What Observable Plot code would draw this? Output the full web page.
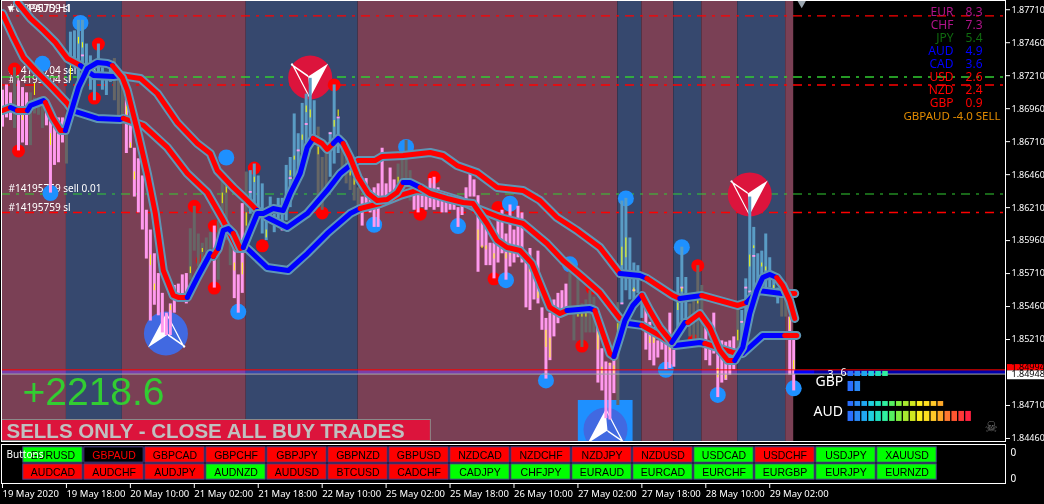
<!DOCTYPE html>
<html><head><meta charset="utf-8">
<script src="https://cdn.jsdelivr.net/npm/d3@7"></script>
<script src="https://cdn.jsdelivr.net/npm/@observablehq/plot@0.6"></script>
<style>html,body{margin:0;padding:0;background:#000;overflow:hidden;width:1044px;height:504px}svg{display:block}</style>
</head><body><div id="chart"></div>
<script>
// All price series are in pips above 1.8000 (1 pip = 0.0001)
const barHigh=[710,714,708,727,717,712,708,708,704,704,704,702,695,687,689,689,689,754,755,763,763,745,736,725,745,727,723,729,734,721,715,704,691,666,658,645,619,604,586,571,556,541,548,562,563,570,571,605,622,601,594,598,602,607,611,642,642,598,591,570,624,648,649,654,645,639,616,629,616,628,628,653,659,692,677,700,707,719,702,682,659,664,678,714,689,670,659,657,647,636,629,643,634,636,639,666,639,651,642,654,659,672,649,632,632,630,632,643,644,636,629,625,624,630,621,624,636,648,642,630,617,614,594,594,617,619,601,623,604,622,617,583,590,579,588,545,537,541,551,556,558,563,573,543,568,548,551,558,553,530,514,504,503,507,549,626,628,598,579,577,556,547,534,530,520,523,518,541,513,568,591,568,548,553,577,562,530,518,541,510,520,519,520,523,544,543,567,629,606,586,588,601,583,571,560,556,556,538,523];
const barLow=[682,689,687,681,664,670,668,668,692,691,681,683,632,653,655,670,654,729,727,717,729,726,710,702,721,710,706,716,702,689,691,662,666,629,617,604,582,535,547,539,526,524,524,541,551,554,548,566,588,576,579,583,583,560,566,607,596,577,552,541,556,594,616,621,621,601,596,611,602,606,604,611,621,644,648,662,667,672,670,621,619,634,644,654,662,647,639,634,626,621,607,619,617,606,606,626,624,632,629,634,632,642,626,619,617,621,619,621,619,621,617,617,619,619,606,615,624,629,629,572,591,577,577,567,579,586,566,576,579,583,579,545,543,551,548,528,491,505,523,533,538,545,543,520,538,515,526,526,526,488,482,461,460,480,471,548,558,551,543,556,537,513,505,501,507,513,498,499,500,520,535,533,523,518,515,518,505,501,510,477,488,490,494,498,510,513,533,545,551,556,560,558,560,556,548,538,538,494,482];
const barKindRuns=[["p",3],["g",1],["p",3],["g",4],["p",5],["g",1],["s",11],["g",3],["p",16],["g",6],["p",1],["g",4],["p",3],["g",1],["s",17],["g",3],["s",3],["g",5],["p",9],["g",4],["p",39],["g",7],["p",5],["g",1],["s",6],["p",8],["s",3],["g",4],["p",8],["g",1],["s",10],["g",2],["p",2]];

const fastIdx=[0,2,3.75,6.25,7,10.25,10.75,12.5,14.5,15.75,17.5,19,21.25,23.75,26.25,27.5,30,31.25,33.75,36.25,38.25,40.25,42.75,44,46.25,48.75,52,52.75,54,55.25,56.5,57.75,59.5,60.25,63.75,65.25,67.75,70.25,72,74.5,76.25,77.75,80,81.25,82.75,84,85.25,87,89,91.5,93.75,96.25,98.75,100.25,102,104.5,107,111.25,115.25,117.75,121.25,123.75,126.25,129.5,132.5,135.25,137,139.5,141.25,147,148.25,150.25,152,153,154.5,155.75,157.75,160,162,164.5,167.5,169,170.75,171.5,174.5,177,179.5,181.5,183.25,185.25,187,188.75,190.25,192,193.75,195.25,197,198.25];
const fastPips=[694.6,696.9,694.6,694.6,698.4,702.2,700.7,689.3,679.5,679.5,696.9,712.1,726.5,731,730.2,728.7,719.6,709.8,679.5,646.9,616.5,573.3,554.4,552.9,552.9,568,586.2,584,590,603.7,605.2,601.4,590,590.8,616.5,616.5,620.3,618.8,631.7,646.9,666.6,673.4,669.6,665.1,669.6,673.4,669.6,659,643.8,631.7,626.4,627.2,632.5,640,640,636.3,631.7,627.9,624.9,624.1,609,596.1,590.8,588.5,578.6,558.2,545.3,540.7,543,544.5,543,525.6,510.4,508.2,522.6,535.4,546.8,554.4,543,530.1,518.8,525.6,533.9,533.9,540.7,530.1,512.7,505.1,505.1,515,540.7,558.2,568,570.3,568,562,550.6,537];
const fastTrend="rbr"+"bbb"+"rrr"+"bbbbbb"+"rrrrrrrrr"+"bbb"+"r"+"bbb"+"rr"+"bbbbbbbb"+"rrr"+"bb"+"rrrrrrr"+"bb"+"rrrrrrrrrrrrr"+"bb"+"rrr"+"bbbb"+"rrr"+"bbb"+"rrrrr"+"bbbbbb"+"rrrr";

const midIdx=[3.75,7,10.25,13.25,16.25,19.5,22.75,27.75,29.5,34.5,38.75,43.75,48.75,52,53.75,57.75,61.25,63.75,66.25,71.25,76.25,81.25,84.5,87,89,93.25,95,100.25,107,110.25,113.75,118.75,123.75,130.25,134.5,138.75,143.75,149.5,154.5,159.5,161.25,167.75,169.5,175,184,186.25,189,195,197,198.25];
const midPips=[776.5,764.4,755.3,746.2,734,728.7,721.2,720.4,721.2,718.9,707.5,685.5,669.6,662,649.1,636.3,626.4,618.8,613.5,605.9,616.5,634,646.9,652.9,656.7,656.7,659.8,660.5,662.8,660.5,652.9,647.6,636.3,634,626.4,613.5,603.7,590.8,571.1,569.5,567.3,554.4,552.1,554.4,546.8,549.1,558.2,555.9,555.9,555.9];
const midTrend="rrrrr"+"bbb"+"rrrrrrrrr"+"bbbbbbb"+"rrrrrrrrrrrrrr"+"bb"+"rr"+"b"+"rr"+"bbb"+"rr";

const lowIdx=[0,2.75,5.25,8.75,12,16.25,17.5,23.75,29.5,30.25,35.25,41.25,46.25,51.25,55.25,58.75,61.25,66.25,71.5,76.25,81.25,87,89.5,94.5,99.5,103.75,108.75,114.5,118.75,124.5,130.25,136.25,140.25,145.25,149.5,154.5,156.5,160,165.25,168.25,174.5,175.75,182.75,185.25,190.25,195.75,198.75];
const lowPips=[768.1,750,734.8,723.4,713.6,699.9,694.6,688.6,687.8,688.6,683.3,666.6,646.9,632.5,611.2,590,590,575.6,573.3,586.2,601.4,616.5,620.3,624.1,630.2,634,631.7,626.4,620.3,613.5,609,593.8,580.9,568,556.7,537,533.2,531.7,522.6,516.5,518.8,518,511.2,510.4,524.1,524.1,524.1];
const lowTrend="rrrrrr"+"bbb"+"rrrrrrr"+"bbbbbb"+"rrrrrrrrrrrrrr"+"b"+"rr"+"bb"+"rr"+"bb"+"rr";

const regionStart=[-0.25,16,30,61,89,154,160,168,175,184,196];
const regionEnd=[16,30,61,89,154,160,168,175,184,196,198];
const regionSide=["sell","buy","sell","buy","sell","buy","sell","buy","sell","buy","sell"];

const levelPips=[766.3,720,714,631.3,617.3];
const levelColor=["#ff0000","#32cd32","#ff0000","#32cd32","#ff0000"];
const levelWidth=[1.2,1.4,1.4,1.2,1.4];

const redIdx=[3,4,24,23,48,53,53,65,63,80,83,104.5,108,124,123,145,147.5,174,173,50];
const redPips=[726,664,745,704,622,607,560,592,651,617,714,616,644,621,567,516,560,577,520,581];
const blueIdx=[19.5,10,12,56,59,93,101,114,126,127,136,142,156,170,166,179,198];
const bluePips=[761,730,632,659,542,608,667,607,566,624,490,578,628,591,498,479,484];

const sellSignalIdx=[77,187], sellSignalPips=[719.6,631];
const buySignalIdx=[40.9,150.9], buySignalPips=[525.6,452.8];
const buyBoxIdx=[144.1,157.8], buyBoxPips=[474.8,443];

const wickIdx=[8,5,12,17,19,20,31,32,33,37,38,42,47,50,55,56,58,60,61,63,66,71,72,73,75,76,77,79,83,84,87,88,99,119,120,121,123,126,127,132,134,136,137,144,145,146,149,150,152,153,154,155,156,158,162,163,167,169,170,174,179,181,184,187,188,190,191,193,197,198];
const wickHigh=[715,691,677,729,750,746,698,670,648,585,563,547,576,590,632,639,579,579,617,644,604,632,649,660,676,698,695,667,687,695,649,643,644,604,592,592,586,586,588,575,557,528,522,541,541,541,526,500,503,501,533,591,598,560,523,523,518,554,560,551,499,494,528,585,592,579,576,562,538,505];
const wickLow=[706,687,668,717,745,742,691,666,642,577,558,543,571,587,624,632,573,570,607,640,598,628,645,657,672,693,689,661,682,690,645,638,639,596,590,589,582,582,585,572,552,515,507,538,538,538,513,495,501,495,520,577,583,557,518,518,513,543,557,548,492,491,520,576,590,576,573,559,528,498];
const pinkTickIdx=[62,69,70,72,74,76,82,84,20,155,158,170,186,188,187,185];
const pinkTickPips=[632.5,609,604,643,664,684,677,689,736,548,558,560,560,584,557,534];

const priceTicks=[1.8771,1.8746,1.8721,1.8696,1.8671,1.8646,1.8621,1.8596,1.8571,1.8546,1.8521,1.8471,1.8446];
const bidPrice=1.84948, askLine=1.8498, tagAskText="1.84994";

const strengthNames=["EUR","CHF","JPY","AUD","CAD","USD","NZD","GBP"];
const strengthValues=["8.3","7.3","5.4","4.9","3.6","2.6","2.4","0.9"];
const strengthColors=["#b0148a","#b0148a","#0f6b0f","#0000ff","#0000ff","#ff0000","#ff0000","#ff0000"];

const meterColors=["#2a70ff","#2a8af5","#20a8f0","#20d0e0","#20e0c0","#30f0a0","#55f060","#80f040","#a8e830","#d0e820","#fff020","#ffe020","#ffc828","#ffa828","#ff7830","#ff5530","#ff3838","#ff2040"];
const meterCounts=[6,2,14,18];
const meterTopPips=[496.8,489.2,474,466.5];
const meterBottomPips=[493,481.6,470.3,458.9];

const buttonsTop=["EURUSD","GBPAUD","GBPCAD","GBPCHF","GBPJPY","GBPNZD","GBPUSD","NZDCAD","NZDCHF","NZDJPY","NZDUSD","USDCAD","USDCHF","USDJPY","XAUUSD"];
const buttonsBottom=["AUDCAD","AUDCHF","AUDJPY","AUDNZD","AUDUSD","BTCUSD","CADCHF","CADJPY","CHFJPY","EURAUD","EURCAD","EURCHF","EURGBP","EURJPY","EURNZD"];
const buttonsTopState="gkrrrrrrrrrgrgg";
const buttonsBottomState="rrrgrrrgggggggg";

const timeIdx=[0,16,32,48,64,80,96,112,128,144,160,176,192];
const timeLabels=["19 May 2020","19 May 18:00","20 May 10:00","21 May 02:00","21 May 18:00","22 May 10:00","25 May 02:00","25 May 18:00","26 May 10:00","27 May 02:00","27 May 18:00","28 May 10:00","29 May 02:00"];

// ---- helpers
const price=v=>1.8+v/1e4;
const kinds=barKindRuns.flatMap(([k,n])=>Array(n).fill(k));
const KIND={p:"#ff99ee",s:"#5a9cc5",g:"#666666"};
const TREND={r:"#ff0000",b:"#0000ff"};
const bars=barHigh.map((h,i)=>({i,h:price(h),l:price(barLow[i]),c:KIND[kinds[i]]}));
const series=(idx,pips,trend)=>idx.map((x,k)=>({x,y:price(pips[k]),c:TREND[trend[k]]||"#ff0000"}));
const pts=(idx,pips)=>idx.map((x,k)=>({x,y:price(pips[k])}));
const arrowShape=(sign)=>({draw(c,size){const s=sign*Math.sqrt(size/Math.PI)/22;const P=(a)=>{a.forEach(([x,y],k)=>k?c.lineTo(x*s,y*s):c.moveTo(x*s,y*s));c.closePath();};
  P([[-2,-1],[18,-14],[0,20]]);P([[-19,-14],[-2,-2.2],[-2,-0.4],[-19.5,-12.6]]);P([[-19,-14],[-17.6,-14.2],[-0.4,19],[-1.4,19.4]]);}});
const arrowDown=arrowShape(1), arrowUp=arrowShape(-1);
const note=(t,dx,dy,o={})=>Plot.text([t],{text:d=>d,frameAnchor:"top-left",dx,dy,textAnchor:"start",lineAnchor:"middle",fill:"#fff",fontSize:10,...o});
const maLine=(d)=>[
  Plot.line(d,{x:"x",y:"y",stroke:"#5f95b5",strokeWidth:9,clip:true,strokeLinejoin:"round"}),
  Plot.line(d,{x:"x",y:"y",stroke:"c",z:null,strokeWidth:5,clip:true,strokeLinejoin:"round"})
];
const meters=meterCounts.flatMap((n,r)=>d3.range(n).map(k=>({x1:211.6+k*1.733,x2:211.6+k*1.733+1.4,y1:price(meterTopPips[r]),y2:price(meterBottomPips[r]),c:meterColors[k]})));
const XDOM=[-0.25,251];
const FONT="'Noto Sans',sans-serif";

const main=Plot.plot({
  width:1044,height:442,marginLeft:1,marginRight:39,marginTop:0,marginBottom:1,
  x:{domain:XDOM,axis:null},
  y:{domain:[1.84437,1.8778]},
  color:{type:"identity"},
  style:{background:"transparent",color:"#fff",fontFamily:FONT},
  marks:[
    Plot.rect(regionStart.map((s,k)=>({s,e:regionEnd[k],c:regionSide[k]==="sell"?"#7a4055":"#36486e"})),{x1:"s",x2:"e",fill:"c"}),
    note("#14195759 sl",7,8),
    note("▼GBPAUD,H1",4,8),
    note("#14195704 sell 0.01",7,70),
    note("#14195704 sl",7,79),
    note("#14195759 sell 0.01",7,188),
    note("#14195759 sl",7,207),
    Plot.ruleY(levelPips.map((v,k)=>({y:price(v),c:levelColor[k],w:levelWidth[k]})),{y:"y",stroke:"c",strokeWidth:"w",strokeDasharray:"9,6,3,6"}),
    Plot.rect([{}],{x1:buyBoxIdx[0],x2:buyBoxIdx[1],y1:price(buyBoxPips[0]),y2:price(buyBoxPips[1]),fill:"#1e90ff",clip:true}),
    Plot.dot(pts(buySignalIdx,buySignalPips),{x:"x",y:"y",r:22,fill:"#4169e1",clip:true}),
    Plot.dot(pts(buySignalIdx,buySignalPips),{x:"x",y:"y",r:22,fill:"#fff",symbol:arrowUp,clip:true}),
    Plot.dot(pts(sellSignalIdx,sellSignalPips),{x:"x",y:"y",r:22,fill:"#dc143c"}),
    Plot.dot(pts(sellSignalIdx,sellSignalPips),{x:"x",y:"y",r:22,fill:"#fff",symbol:arrowDown}),
    Plot.dot(pts(redIdx,redPips),{x:"x",y:"y",r:6.5,fill:"#ff0000"}),
    Plot.dot(pts(blueIdx,bluePips),{x:"x",y:"y",r:8,fill:"#1e90ff"}),
    Plot.ruleX(bars,{x:"i",y1:"h",y2:"l",stroke:"c",strokeWidth:3}),
    Plot.ruleX(pinkTickIdx.map((i,k)=>({i,y:pinkTickPips[k]})),{x:"i",y1:d=>price(d.y+0.7),y2:d=>price(d.y-0.7),stroke:"#ff99ee",strokeWidth:3}),
    Plot.ruleX(wickIdx.map((i,k)=>({i,a:price(wickHigh[k]),b:price(wickLow[k])})),{x:"i",y1:"a",y2:"b",stroke:"#ffff00",strokeWidth:1}),
    Plot.rect([{}],{y1:price(497.4),y2:price(494.5),fill:"#0000aa",mixBlendMode:"lighten"}),
    Plot.rect([{}],{x1:198.25,x2:203.25,y1:price(497.4),y2:price(494.5),fill:"#0000ff"}),
    Plot.ruleY([askLine],{stroke:"#ff0000",strokeWidth:1}),
    Plot.ruleY([bidPrice],{stroke:"#a6a6a6",strokeWidth:1}),
    ...maLine(series(lowIdx,lowPips,lowTrend)),
    ...maLine(series(midIdx,midPips,midTrend)),
    ...maLine(series(fastIdx,fastPips,fastTrend)),
    note("+2218.6",21,392,{fontSize:39,fill:"#32cd32",fontFamily:"'Liberation Sans',sans-serif"}),
    Plot.rect([{}],{x1:-0.1,x2:107.2,y1:price(460),y2:price(444),fill:"#dc143c",stroke:"#8a8a8a",strokeWidth:1}),
    note("SELLS ONLY - CLOSE ALL BUY TRADES",5,430.5,{fontSize:20.5,fontWeight:"bold",fill:"#c0c0c0",fontFamily:"'Liberation Sans',sans-serif"}),
    ...strengthNames.map((n,k)=>note(n,952,12+13*k,{textAnchor:"end",fontSize:12,fill:strengthColors[k]})),
    ...strengthValues.map((n,k)=>note(n,981,12+13*k,{textAnchor:"end",fontSize:12,fill:strengthColors[k]})),
    note("GBPAUD -4.0 SELL",902,116,{fontSize:11.5,fill:"#e08a00"}),
    Plot.rect(meters,{x1:"x1",x2:"x2",y1:"y1",y2:"y2",fill:"c"}),
    note("3",826,374,{fontSize:10.5}),
    note("6",839,372,{fontSize:10.5}),
    note("GBP",814,381,{fontSize:14}),
    note("AUD",812,411,{fontSize:14}),
    note("☠",983,427,{fontSize:15,fill:"#6e6e6e",fontFamily:"'DejaVu Sans'"}),
    Plot.dot([{x:200,y:1.87775}],{x:"x",y:"y",r:4.5,symbol:"triangle",rotate:180,fill:"#9aa4ae"}),
    Plot.frame({stroke:"#fff"}),
    Plot.axisY({anchor:"right",ticks:priceTicks,tickFormat:d3.format(".5f"),tickSize:4,tickPadding:2,fontSize:9,stroke:"#fff",fill:"#fff"}),
    Plot.rect([{}],{x1:251.5,x2:261,y1:price(502),y2:price(497.2),fill:"#ff0000"}),
    note(tagAskText,1010,367,{fontSize:9,fill:"#000"}),
    Plot.rect([{}],{x1:251.5,x2:261,y1:price(497.2),y2:price(490.5),fill:"#fff"}),
    note(bidPrice.toFixed(5),1010,373.8,{fontSize:9,fill:"#000"})
  ]
});

const buttons=[
  ...buttonsTop.map((t,k)=>({t,col:k,row:0,s:buttonsTopState[k]})),
  ...buttonsBottom.map((t,k)=>({t,col:k,row:1,s:buttonsBottomState[k]}))
];
const FILL={g:"#00ff00",r:"#ff0000",k:"#000000"};
const panel=Plot.plot({
  width:1044,height:42,marginLeft:1,marginRight:39,marginTop:2,marginBottom:1,
  x:{type:"band",domain:d3.range(15),range:[22,937],padding:0,axis:null},
  y:{type:"band",domain:[0,1],range:[3.5,37.5],padding:0,axis:null},
  color:{type:"identity"},
  style:{background:"transparent",color:"#fff",fontFamily:"'Liberation Sans',sans-serif"},
  marks:[
    Plot.frame({stroke:"#fff"}),
    Plot.cell(buttons,{x:"col",y:"row",fill:d=>FILL[d.s],stroke:"#483d8b",strokeWidth:1,inset:0.8}),
    Plot.text(buttons,{x:"col",y:"row",text:"t",fontSize:10.5,fill:d=>d.s==="k"?"#ff0000":"#000",dy:0.5}),
    note("Buttons",5,10,{fontSize:10,fontFamily:FONT}),
    note("0",1009,8,{fontSize:10,fontFamily:FONT}),
    note("0",1009,34,{fontSize:10,fontFamily:FONT})
  ]
});

const timeAxis=Plot.plot({
  width:1044,height:20,marginLeft:1,marginRight:39,marginTop:0,marginBottom:20,
  x:{domain:XDOM},
  style:{background:"transparent",color:"#fff",fontFamily:FONT},
  marks:[
    Plot.axisX({ticks:timeIdx,tickFormat:i=>timeLabels[timeIdx.indexOf(i)],tickSize:4,tickPadding:2,fontSize:9.5,textAnchor:"start",stroke:"#fff",fill:"#fff",label:null})
  ]
});
document.getElementById("chart").append(main,panel,timeAxis);
</script></body></html>
